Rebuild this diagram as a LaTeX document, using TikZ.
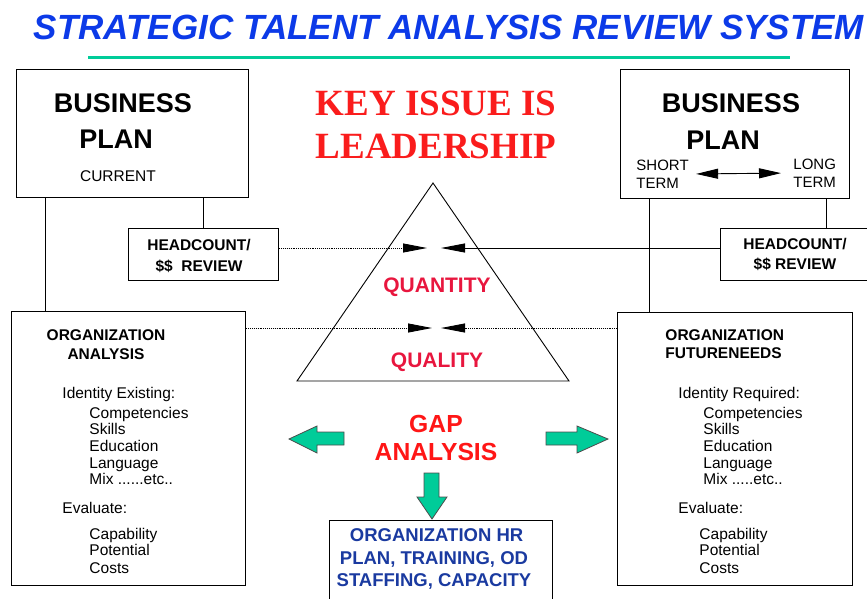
\documentclass[tikz,border=0pt]{standalone}
\usepackage{fontspec}
\setmainfont{Liberation Sans}
\newfontfamily\timesfont{Liberation Serif}
\usepackage{xcolor}
\usetikzlibrary{arrows.meta}
\definecolor{titleblue}{RGB}{12,58,232}
\definecolor{rulegreen}{RGB}{0,204,153}
\definecolor{keyred}{RGB}{250,28,28}
\definecolor{qred}{RGB}{232,22,62}
\definecolor{gapred}{RGB}{255,22,22}
\definecolor{hrblue}{RGB}{26,58,160}
\def\fsz#1#2{\fontsize{#1}{#2}\selectfont}
\def\tipsize{Triangle[length=24pt,width=9pt]}
\def\mixleft{Mix ......etc..}
\def\mixright{Mix .....etc..}

\begin{document}
\begin{tikzpicture}[x=1pt,y=-1pt,line width=0.9pt]
    \tikzstyle{box}=[draw,line width=1.2pt,inner sep=0pt,anchor=north west]
    \tikzstyle{big}=[font=\bfseries\fsz{27}{30},inner sep=0pt]
    \tikzstyle{hc}=[font=\bfseries\fsz{15.5}{21},align=center,inner sep=0pt]
    \tikzstyle{head}=[font=\bfseries\fsz{15.5}{19},inner sep=0pt]
    \tikzstyle{item}=[font=\fsz{15.5}{17},anchor=west,inner sep=0pt,text height=11pt,text depth=3pt]
    \tikzstyle{red label}=[font=\bfseries\fsz{21}{24},text=qred,inner sep=0pt]
    \tikzstyle{block}=[fill=rulegreen,draw=black!70,line width=0.8pt]

    \useasboundingbox (0,0) rectangle (867,598);
    \clip (0,0) rectangle (867,598);

    % Draw the title and the rule under it
    \node[font=\bfseries\itshape\fsz{35}{40},text=titleblue,inner sep=0pt] (title) at (449,27)
        {STRATEGIC TALENT ANALYSIS REVIEW SYSTEM};
    \draw[rulegreen,line width=3pt] (88,57) -- (790,57);

    % Draw the boxes
    \node[box,minimum width=232,minimum height=128] (BP-L) at (16,69) {};
    \node[box,minimum width=229,minimum height=129] (BP-R) at (620,69) {};
    \node[box,minimum width=150,minimum height=52] (HC-L) at (128,228) {};
    \node[box,minimum width=212,minimum height=52] (HC-R) at (720,228) {};
    \node[box,minimum width=234,minimum height=274] (OA-L) at (11,311) {};
    \node[box,minimum width=235,minimum height=273] (OA-R) at (617,312) {};
    \node[box,minimum width=223,minimum height=95] (HR) at (329,520) {};

    % Business plans
    \node[big] at (123,103) {BUSINESS};
    \node[big] at (116,139) {PLAN};
    \node[font=\fsz{15.5}{17},inner sep=0pt] at (118,176) {CURRENT};
    \node[big] at (731,103) {BUSINESS};
    \node[big] at (723,140) {PLAN};
    \node[font=\fsz{15}{18},align=left,anchor=west,inner sep=0pt] (st) at (636,174) {SHORT\\TERM};
    \node[font=\fsz{15}{18},align=left,anchor=west,inner sep=0pt] (lt) at (793,173) {LONG\\TERM};
    \draw[{Triangle[length=22pt,width=10pt]}-{Triangle[length=22pt,width=10pt]},
        shorten <=7pt,shorten >=12pt] (st.east) -- (lt.west);

    % Headcount reviews
    \node[hc] at (199,256) {HEADCOUNT/\\\$\$~~REVIEW};
    \node[hc,font=\bfseries\fsz{15.5}{20}] at (795,254) {HEADCOUNT/\\\$\$ REVIEW};

    % Key issue and the triangle
    \node[font=\timesfont\bfseries\fsz{37}{43},text=keyred,align=center,inner sep=0pt] (key) at (436,125)
        {KEY ISSUE IS\\LEADERSHIP};
    \draw (433,183) -- (569,381) -- (297,381) -- cycle;
    \node[red label] (qn) at (437,287) {QUANTITY};
    \node[red label] (ql) at (437,362) {QUALITY};

    % Connect the plans with the reviews and the analyses
    \draw ([xshift=29pt]BP-L.south west) -- ([xshift=29pt]BP-L.south west |- OA-L.north);
    \draw (HC-L.north) -- (HC-L.north |- BP-L.south);
    \draw ([xshift=29pt]BP-R.south west) -- ([xshift=29pt]BP-R.south west |- OA-R.north);
    \draw (HC-R.north) -- (HC-R.north |- BP-R.south);

    % Arrows meeting in the triangle
    \coordinate (qn-a) at (427,248);
    \coordinate (qn-b) at (441,248);
    \coordinate (ql-a) at (432,328);
    \coordinate (ql-b) at (441,328);
    \draw[densely dotted,-{\tipsize}] (HC-L.east |- qn-a) -- (qn-a);
    \draw[-{\tipsize}] (HC-R.west |- qn-b) -- (qn-b);
    \draw[densely dotted,-{\tipsize}] (OA-L.east |- ql-a) -- (ql-a);
    \draw[densely dotted,-{\tipsize}] (OA-R.west |- ql-b) -- (ql-b);

    % Organization analysis (left)
    \node[head,align=center] at (106,345) {ORGANIZATION\\ANALYSIS};
    \node[item] at (62,394) {Identity Existing:};
    \foreach \txt/\y in {Competencies/414,Skills/430,Education/447,Language/464,\mixleft/480}
        \node[item] at (89,\y) {\txt};
    \node[item] at (62,509) {Evaluate:};
    \foreach \txt/\y in {Capability/535,Potential/551,Costs/569}
        \node[item] at (89,\y) {\txt};

    % Organization future needs (right)
    \node[head,align=left,anchor=west,font=\bfseries\fsz{15.5}{18}] at (665,344) {ORGANIZATION\\FUTURENEEDS};
    \node[item] at (678,394) {Identity Required:};
    \foreach \txt/\y in {Competencies/414,Skills/430,Education/447,Language/464,\mixright/480}
        \node[item] at (703,\y) {\txt};
    \node[item] at (678,509) {Evaluate:};
    \foreach \txt/\y in {Capability/535,Potential/551,Costs/569}
        \node[item] at (699,\y) {\txt};

    % Gap analysis and its block arrows
    \node[font=\bfseries\fsz{24.7}{28},text=gapred,align=center,inner sep=0pt] (gap) at (436,438) {GAP\\ANALYSIS};
    \filldraw[block] (289,439) -- (317,426) -- (317,432) -- (344,432) -- (344,445) -- (317,445) -- (317,453) -- cycle;
    \filldraw[block] (608,439) -- (577,426) -- (577,432) -- (546,432) -- (546,445) -- (577,445) -- (577,453) -- cycle;
    \filldraw[block] (432,519) -- (417,497) -- (424,497) -- (424,473) -- (439,473) -- (439,497) -- (447,497) -- cycle;

    % HR plan
    \node[font=\bfseries\fsz{18.5}{22.5},text=hrblue,align=center,inner sep=0pt] at (434,559)
        {\ ORGANIZATION HR\\PLAN, TRAINING, OD\\STAFFING, CAPACITY};
\end{tikzpicture}
\end{document}
